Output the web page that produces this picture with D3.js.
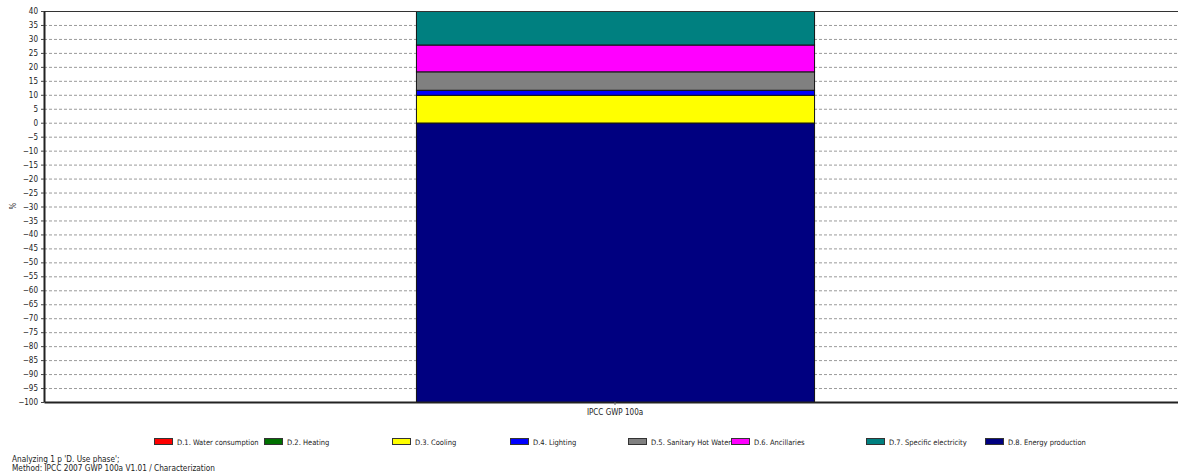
<!DOCTYPE html>
<html>
<head>
<meta charset="utf-8">
<script src="https://cdn.jsdelivr.net/npm/d3@7"></script>
<style>
  html, body { margin: 0; padding: 0; background: #fff; }
  svg { display: block; }
  text { font-family: "DejaVu Sans Condensed", "Liberation Sans", sans-serif; fill: #222; }
</style>
</head>
<body>
<svg id="chart" width="1178" height="476"></svg>
<script>
// Impact category on the x axis
const categories = ["IPCC GWP 100a"];

// Process groups of the use phase, in stacking order
const seriesNames = [
  "D.1. Water consumption",
  "D.2. Heating",
  "D.3. Cooling",
  "D.4. Lighting",
  "D.5. Sanitary Hot Water",
  "D.6. Ancillaries",
  "D.7. Specific electricity",
  "D.8. Energy production"
];

// Contribution in % for each group (one value per category)
const waterConsumption   = [0];
const heating            = [0];
const cooling            = [10.0];
const lighting           = [1.8];
const sanitaryHotWater   = [6.6];
const ancillaries        = [9.6];
const specificElectricity= [12.3];
const energyProduction   = [-100];

const seriesValues = [
  waterConsumption, heating, cooling, lighting,
  sanitaryHotWater, ancillaries, specificElectricity, energyProduction
];

const seriesColors = [
  "#ff0000", "#007000", "#ffff00", "#0000ff",
  "#808080", "#ff00ff", "#008080", "#000080"
];

// y axis tick values
const yTicks = d3.range(-100, 41, 5);

const svg = d3.select("#chart");
const margin = { left: 44, top: 11, right: -8, bottom: 402 };
const width = 1178;

const x = d3.scaleBand()
  .domain(categories)
  .range([margin.left, width - margin.right])
  .paddingInner(0.483)
  .paddingOuter(0.483);

const y = d3.scaleLinear()
  .domain([-100, 40])
  .range([margin.bottom, margin.top]);

// clip so stacked bars stay inside the plot frame
svg.append("clipPath").attr("id", "plotClip")
  .append("rect")
  .attr("x", margin.left).attr("y", margin.top)
  .attr("width", width - margin.left).attr("height", margin.bottom - margin.top);

// dashed grid lines
svg.append("g")
  .selectAll("line")
  .data(yTicks.filter(t => t > -100 && t < 40))
  .join("line")
  .attr("x1", margin.left).attr("x2", width)
  .attr("y1", d => y(d) + 0.5).attr("y2", d => y(d) + 0.5)
  .attr("stroke", "#9a9a9a")
  .attr("stroke-width", 1)
  .attr("stroke-dasharray", "3,2");

// build stacked segments: positives upward from 0, negatives downward
const segments = [];
categories.forEach((cat, ci) => {
  let pos = 0, neg = 0;
  seriesValues.forEach((vals, si) => {
    const v = vals[ci];
    if (v === 0) return;
    let y0, y1;
    if (v > 0) { y0 = pos; y1 = pos + v; pos = y1; }
    else { y0 = neg; y1 = neg + v; neg = y1; }
    segments.push({ cat, si, y0, y1 });
  });
});

svg.append("g")
  .attr("clip-path", "url(#plotClip)")
  .selectAll("rect")
  .data(segments)
  .join("rect")
  .attr("x", d => x(d.cat) + 0.5)
  .attr("width", x.bandwidth())
  .attr("y", d => y(Math.max(d.y0, d.y1)) + 0.5)
  .attr("height", d => Math.abs(y(d.y0) - y(d.y1)))
  .attr("fill", d => seriesColors[d.si])
  .attr("stroke", "#111")
  .attr("stroke-width", 1);

// frame: top, left and bottom lines
svg.append("line")
  .attr("x1", margin.left).attr("x2", width)
  .attr("y1", margin.top + 0.5).attr("y2", margin.top + 0.5)
  .attr("stroke", "#333").attr("stroke-width", 1);

const yAxis = svg.append("g")
  .attr("transform", `translate(${margin.left},0)`)
  .call(d3.axisLeft(y).tickValues(yTicks).tickSize(3).tickPadding(3).tickSizeOuter(0));
yAxis.select(".domain").attr("stroke", "#222").attr("stroke-width", 2);
yAxis.selectAll(".tick line").attr("stroke", "#444");
yAxis.selectAll(".tick text")
  .style("font-size", "8px")
  .attr("fill", "#222");

const xAxis = svg.append("g")
  .attr("transform", `translate(0,${margin.bottom})`)
  .call(d3.axisBottom(x).tickSize(3).tickPadding(4).tickSizeOuter(0));
xAxis.select(".domain").attr("stroke", "#222").attr("stroke-width", 2);
xAxis.selectAll(".tick line").attr("stroke", "#666");
xAxis.selectAll(".tick text").style("font-size", "8px").attr("fill", "#222");

// y axis title
svg.append("text")
  .attr("transform", "translate(16,206) rotate(-90)")
  .attr("text-anchor", "middle")
  .style("font-size", "8px")
  .text("%");

// legend row
const legendX = [154, 264, 392, 510, 628, 731, 866, 985];
const legend = svg.append("g").attr("transform", "translate(0,438)");
const items = legend.selectAll("g")
  .data(seriesNames)
  .join("g")
  .attr("transform", (d, i) => `translate(${legendX[i]},0)`);
items.append("rect")
  .attr("x", 0.5).attr("y", 0.5)
  .attr("width", 18).attr("height", 6)
  .attr("fill", (d, i) => seriesColors[i])
  .attr("stroke", "#333")
  .attr("stroke-width", 1);
items.append("text")
  .attr("x", 23).attr("y", 7)
  .style("font-size", "7.5px")
  .text(d => d);

// footer notes
svg.append("text")
  .attr("x", 12).attr("y", 462)
  .style("font-size", "8.2px")
  .text("Analyzing 1 p 'D. Use phase';");
svg.append("text")
  .attr("x", 12).attr("y", 471)
  .style("font-size", "8.2px")
  .text("Method: IPCC 2007 GWP 100a V1.01 / Characterization");
</script>
</body>
</html>
